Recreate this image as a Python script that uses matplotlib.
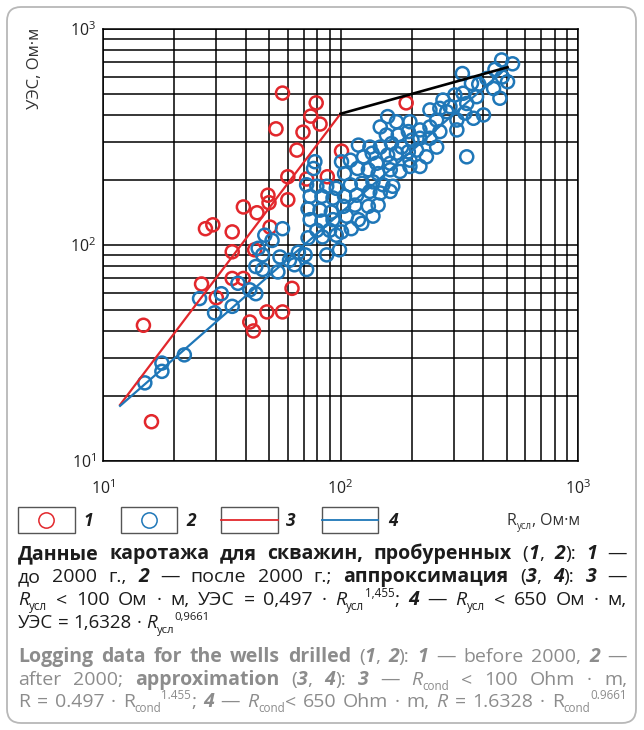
import numpy as np
import matplotlib
matplotlib.use("Agg")
import matplotlib.pyplot as plt
from matplotlib.patches import FancyBboxPatch, Rectangle
from matplotlib.ticker import LogLocator, NullFormatter, LogFormatterMathtext

FAM = ['Open Sans', 'DejaVu Sans']
plt.rcParams['font.family'] = FAM

# --- data (R_usl, Ohm*m ; UES, Ohm*m) ---
# 1: wells drilled before 2000
r_old = [57, 79, 75, 82, 53.5, 69.5, 65.5, 101, 189, 60,
         72, 88, 49.5, 60, 39, 44.5, 50, 27, 29, 35,
         35, 50.5, 43.5, 26, 35, 39, 30, 62.5, 49, 57,
         14.8, 41.5, 43, 16]
ues_old = [505, 455, 395, 363, 345, 333, 275, 272, 455, 207,
           202, 207, 170, 162, 150, 141, 157, 119, 124, 115,
           93, 121, 95, 66, 70, 70, 57, 63, 49, 49,
           42.5, 44, 40, 15.2]

# 2: wells drilled after 2000
r_new = [477, 530, 447, 326, 480, 505, 413, 356, 382, 441,
         469, 328, 374, 303, 270, 289, 340, 238, 262, 280,
         334, 400, 363, 309, 254, 158, 147, 172, 196, 216,
         238, 262, 309, 193, 156, 175, 147, 164, 181, 200,
         216, 238, 254, 209, 193, 172, 158, 136, 125, 110,
         101, 142, 162, 196, 230, 340, 119, 133,
         78, 77, 104, 118, 131, 144, 162, 178, 196, 216,
         72, 79.5, 87.5, 96, 110, 123, 137, 151, 166,
         74.5, 83.5, 93, 104, 117, 133, 147, 162,
         73, 82, 91.5, 103, 115, 131, 144,
         74.5, 83.5, 93, 106, 119, 137,
         79.5, 90, 101, 111, 123,
         73, 84, 96,
         57, 48, 51.5, 45, 47, 55.6, 61, 66.5, 71, 64,
         72, 87.5, 99, 47, 54.5, 44, 37, 41.5, 31.5, 25.5,
         44, 29.5, 35, 22, 17.7, 17.7, 15]
ues_new = [719, 690, 650, 622, 600, 570, 590, 560, 555, 530,
           478, 504, 486, 495, 469, 437, 452, 422, 429, 414,
           408, 400, 386, 379, 379, 393, 352, 372, 372, 341,
           352, 335, 341, 335, 323, 323, 284, 295, 284, 306,
           312, 312, 284, 275, 270, 266, 261, 266, 256, 247,
           243, 239, 239, 247, 256, 256, 290, 284,
           243, 226, 214, 226, 223, 214, 223, 219, 231, 231,
           190, 187, 187, 183, 190, 193, 196, 190, 187,
           168, 168, 165, 168, 170, 177, 174, 177,
           147, 145, 142, 151, 153, 151, 153,
           131, 129, 131, 136, 131, 136,
           117, 117, 115, 119, 126,
           108, 109, 111,
           119, 111, 105, 96.5, 90, 88, 85, 92.5, 90, 81,
           77, 90, 95, 77, 75, 79.5, 66.5, 62, 59.5, 56.5,
           59.5, 48.5, 52, 31, 28.4, 26, 23]

# 3, 4: approximations (end points) and the upper black segment
fit3_x = [11.8, 100]
fit3_y = [18.2, 405]
fit4_x = [11.8, 500]
fit4_y = [18.0, 660]
upper_x = [100, 505]
upper_y = [405, 665]

RED = '#e2272c'
BLUE = '#1f77b8'
DARK = '#1c1c1c'
GREY = '#8c8c8c'

fig = plt.figure(figsize=(6.44, 7.30), dpi=100)
ax = fig.add_axes([103 / 644, 1 - 461 / 730, 475 / 644, 432 / 730])
ax.set_xscale('log')
ax.set_yscale('log')
ax.set_xlim(10, 1000)
ax.set_ylim(10, 1000)

for a in (ax.xaxis, ax.yaxis):
    a.set_major_locator(LogLocator(base=10))
    a.set_minor_locator(LogLocator(base=10, subs=np.arange(2, 10)))
    a.set_minor_formatter(NullFormatter())
    a.set_major_formatter(LogFormatterMathtext())
ax.grid(True, which='both', color='black', lw=1.1)
ax.set_axisbelow(True)
ax.tick_params(which='both', length=0, labelsize=11.5, colors='#222222')
ax.tick_params(axis='x', pad=13)
ax.tick_params(axis='y', pad=5)
for s in ax.spines.values():
    s.set_color('black')
    s.set_linewidth(1.1)

ax.scatter(r_old, ues_old, s=88, facecolors='none', edgecolors=RED, linewidths=1.8, zorder=3)
ax.scatter(r_new, ues_new, s=88, facecolors='none', edgecolors=BLUE, linewidths=1.8, zorder=3)
ax.plot(fit3_x, fit3_y, color=RED, lw=1.6, zorder=4)
ax.plot(fit4_x, fit4_y, color=BLUE, lw=1.6, zorder=4)
ax.plot(upper_x, upper_y, color='black', lw=1.9, zorder=4)

# overlay in pixel coordinates for legend, labels and caption
ov = fig.add_axes([0, 0, 1, 1], facecolor='none')
ov.set_xlim(0, 644)
ov.set_ylim(730, 0)
ov.axis('off')

ov.add_patch(FancyBboxPatch((7, 7), 629, 716, boxstyle='round,pad=0,rounding_size=14',
                            ec='#b8b8b8', fc='none', lw=1.3))

ov.text(35, 28, 'УЭС, Ом·м', rotation=90, ha='center', va='top', fontsize=12, color='#333333')

STYLES = {
    'r': ('normal', 'normal', 1.0, 0),
    'b': ('bold', 'normal', 1.0, 0),
    'i': ('normal', 'italic', 1.0, 0),
    'bi': ('bold', 'italic', 1.0, 0),
    'sub': ('normal', 'normal', 0.6, 4),
    'sup': ('normal', 'normal', 0.6, -7),
}


def put_line(runs, y, x0, x1, size, color, justify=True):
    renderer = fig.canvas.get_renderer()
    pieces = []
    for text, st in runs:
        for k, p in enumerate(text.split(' ')):
            if k and (not pieces or pieces[-1] is not None):
                pieces.append(None)
            if p:
                pieces.append((p, st))
    while True:
        objs = []
        for pc in pieces:
            if pc is None:
                objs.append(None)
                continue
            w, fs, sc, dy = STYLES[pc[1]]
            objs.append(ov.text(0, y + dy * size / 12, pc[0], fontsize=size * sc,
                                fontweight=w, fontstyle=fs, color=color,
                                va='baseline', ha='left'))
        widths = [0 if t is None else t.get_window_extent(renderer).width for t in objs]
        ngap = objs.count(None)
        space = size * 100 / 72 * 0.26
        total = sum(widths)
        if not justify or total + ngap * space * 0.75 <= x1 - x0:
            break
        for t in objs:
            if t is not None:
                t.remove()
        size *= 0.98
    gap = (x1 - x0 - total) / ngap if (justify and ngap) else space
    x = x0
    for t, w in zip(objs, widths):
        if t is None:
            x += gap
        else:
            t.set_x(x)
            x += w


# legend row
box_y, box_h = 507, 26
ov.add_patch(Rectangle((18, box_y), 57, box_h, fc='none', ec='#555555', lw=1.0))
ov.plot([46.5], [520], 'o', ms=11, mfc='none', mec=RED, mew=1.1)
ov.text(83, 521, '1', fontsize=12.5, fontweight='bold', fontstyle='italic', va='center', color=DARK)
ov.add_patch(Rectangle((121, box_y), 56, box_h, fc='none', ec='#555555', lw=1.0))
ov.plot([149], [520], 'o', ms=11, mfc='none', mec=BLUE, mew=1.1)
ov.text(186, 521, '2', fontsize=12.5, fontweight='bold', fontstyle='italic', va='center', color=DARK)
ov.add_patch(Rectangle((221, box_y), 57, box_h, fc='none', ec='#555555', lw=1.0))
ov.plot([221, 278], [520, 520], color=RED, lw=1.3)
ov.text(286, 521, '3', fontsize=12.5, fontweight='bold', fontstyle='italic', va='center', color=DARK)
ov.add_patch(Rectangle((322, box_y), 56, box_h, fc='none', ec='#555555', lw=1.0))
ov.plot([322, 378], [520, 520], color=BLUE, lw=1.3)
ov.text(388, 521, '4', fontsize=12.5, fontweight='bold', fontstyle='italic', va='center', color=DARK)

put_line([('R', 'r'), ('усл', 'sub'), (', Ом·м', 'r')], 525, 507, 600, 11.5, '#333333', justify=False)

# caption
L, R = 18, 627
SZ = 14
put_line([('Данные каротажа для скважин, пробуренных ', 'b'), ('(', 'r'), ('1', 'bi'), (', ', 'r'),
          ('2', 'bi'), ('): ', 'r'), ('1', 'bi'), (' —', 'r')], 559, L, R, SZ, DARK)
put_line([('до 2000 г., ', 'r'), ('2', 'bi'), (' — после 2000 г.; ', 'r'), ('аппроксимация', 'b'),
          (' (', 'r'), ('3', 'bi'), (', ', 'r'), ('4', 'bi'), ('): ', 'r'), ('3', 'bi'), (' —', 'r')],
         582, L, R, SZ, DARK)
put_line([('R', 'i'), ('усл', 'sub'), (' < 100 Ом · м, УЭС = 0,497 · ', 'r'), ('R', 'i'), ('усл', 'sub'),
          ('1,455', 'sup'), ('; ', 'r'), ('4', 'bi'), (' — ', 'r'), ('R', 'i'), ('усл', 'sub'),
          (' < 650 Ом · м,', 'r')], 605, L, R, SZ, DARK)
put_line([('УЭС = 1,6328 · ', 'r'), ('R', 'i'), ('усл', 'sub'), ('0,9661', 'sup')], 628, L, R, 13.5, DARK,
         justify=False)
put_line([('Logging data for the wells drilled', 'b'), (' (', 'r'), ('1', 'bi'), (', ', 'r'), ('2', 'bi'),
          ('): ', 'r'), ('1', 'bi'), (' — before 2000, ', 'r'), ('2', 'bi'), (' —', 'r')],
         662, L, R, SZ, GREY)
put_line([('after 2000; ', 'r'), ('approximation', 'b'), (' (', 'r'), ('3', 'bi'), (', ', 'r'), ('4', 'bi'),
          ('): ', 'r'), ('3', 'bi'), (' — ', 'r'), ('R', 'i'), ('cond', 'sub'), (' < 100 Ohm · m,', 'r')],
         685, L, R, SZ, GREY)
put_line([('R = 0.497 · R', 'r'), ('cond', 'sub'), ('1.455', 'sup'), ('; ', 'r'), ('4', 'bi'), (' — ', 'r'),
          ('R', 'i'), ('cond', 'sub'), ('< 650 Ohm · m, ', 'r'), ('R', 'i'), (' = 1.6328 · R', 'r'),
          ('cond', 'sub'), ('0.9661', 'sup')], 707, L, R, SZ, GREY)

fig.savefig('out.png', dpi=100)
